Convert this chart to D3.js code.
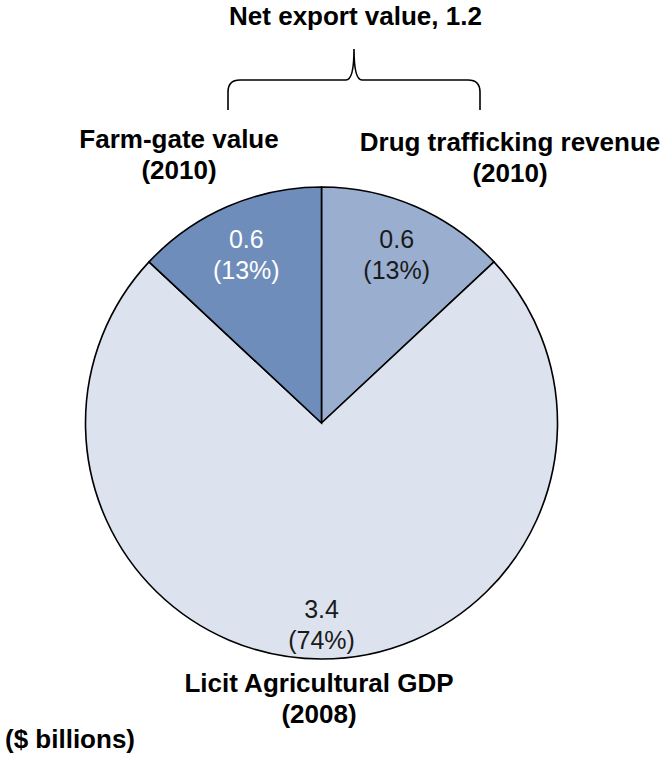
<!DOCTYPE html>
<html>
<head>
<meta charset="utf-8">
<script src="https://cdn.jsdelivr.net/npm/d3@7"></script>
<style>
  html, body { margin: 0; padding: 0; background: #fff; }
  svg { display: block; font-family: "Liberation Sans", Arial, sans-serif; }
</style>
</head>
<body>
<svg id="chart" width="666" height="760"></svg>
<script>
// Slices, clockwise from 12 o'clock
const categories = ["Drug trafficking revenue", "Licit Agricultural GDP", "Farm-gate value"];
const years = ["(2010)", "(2008)", "(2010)"];
const values = [0.6, 3.4, 0.6];
const percents = ["13%", "74%", "13%"];
const colors = ["#9AAFD0", "#DCE3EE", "#6E8DBA"];
const labelColors = ["#1a1a1a", "#1a1a1a", "#ffffff"];

const svg = d3.select("#chart");
const W = 666, H = 760;
const cx = 321.5, cy = 423, R = 236;

const pie = d3.pie().sort(null).value(d => d.value);
const rows = categories.map((c, i) => ({
  name: c, year: years[i], value: values[i], pct: percents[i],
  color: colors[i], textColor: labelColors[i]
}));
const arcs = pie(rows);

const arc = d3.arc().innerRadius(0).outerRadius(R);

const g = svg.append("g").attr("transform", `translate(${cx},${cy})`);

g.selectAll("path.slice")
  .data(arcs)
  .join("path")
  .attr("class", "slice")
  .attr("d", arc)
  .attr("fill", d => d.data.color)
  .attr("stroke", "#000")
  .attr("stroke-width", 1.6)
  .attr("stroke-linejoin", "miter");

// value labels inside slices
const labelArc = d => {
  const big = (d.endAngle - d.startAngle) > Math.PI;
  const r = (big ? 0.835 : 0.80) * R;
  return d3.arc().innerRadius(r).outerRadius(r).centroid(d);
};

const vl = g.selectAll("text.value")
  .data(arcs)
  .join("text")
  .attr("class", "value")
  .attr("text-anchor", "middle")
  .attr("font-size", 25)
  .attr("fill", d => d.data.textColor)
  .attr("transform", d => `translate(${labelArc(d)})`);
vl.append("tspan").attr("x", 0).attr("y", -2).text(d => d.data.value.toFixed(1));
vl.append("tspan").attr("x", 0).attr("y", 29).text(d => `(${d.data.pct})`);

// category labels around the pie
const catPos = [
  { x: 510, y: 151 },   // Drug trafficking revenue
  { x: 319, y: 692 },   // Licit Agricultural GDP
  { x: 179, y: 148 }    // Farm-gate value
];
const cl = svg.selectAll("text.cat")
  .data(arcs)
  .join("text")
  .attr("class", "cat")
  .attr("text-anchor", "middle")
  .attr("font-size", 26)
  .attr("font-weight", "bold")
  .attr("fill", "#000");
cl.append("tspan")
  .attr("x", (d, i) => catPos[i].x)
  .attr("y", (d, i) => catPos[i].y)
  .text(d => d.data.name);
cl.append("tspan")
  .attr("x", (d, i) => catPos[i].x)
  .attr("y", (d, i) => catPos[i].y + 31)
  .text(d => d.data.year);

// curly brace grouping the two small slices
const netExport = d3.sum([values[0], values[2]]);
const bx0 = 228, bx1 = 480, bxm = 354, by = 80, byTop = 49, byEnd = 110;
const brace = d3.path();
brace.moveTo(bx0, byEnd);
brace.lineTo(bx0, by + 12);
brace.quadraticCurveTo(bx0, by, bx0 + 12, by);
brace.lineTo(bxm - 8, by);
brace.quadraticCurveTo(bxm, by, bxm, byTop);
brace.quadraticCurveTo(bxm, by, bxm + 8, by);
brace.lineTo(bx1 - 12, by);
brace.quadraticCurveTo(bx1, by, bx1, by + 12);
brace.lineTo(bx1, byEnd);
svg.append("path")
  .attr("d", brace.toString())
  .attr("fill", "none")
  .attr("stroke", "#000")
  .attr("stroke-width", 1.6);

svg.append("text")
  .attr("x", 355.5)
  .attr("y", 25)
  .attr("text-anchor", "middle")
  .attr("font-size", 26)
  .attr("font-weight", "bold")
  .text(`Net export value, ${netExport.toFixed(1)}`);

// units note
svg.append("text")
  .attr("x", 5)
  .attr("y", 748)
  .attr("font-size", 26)
  .attr("font-weight", "bold")
  .text("($ billions)");
</script>
</body>
</html>
